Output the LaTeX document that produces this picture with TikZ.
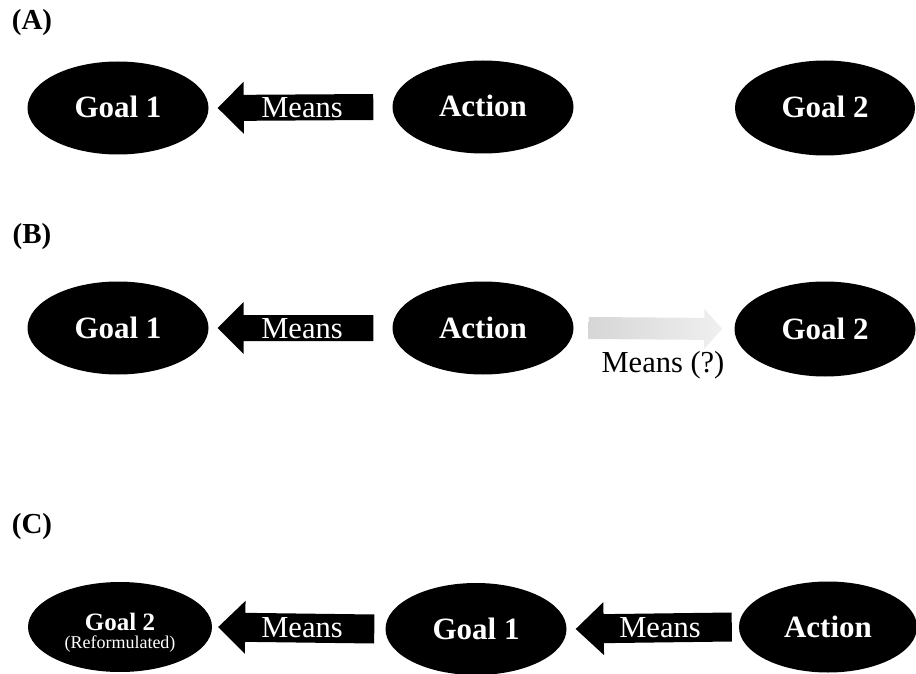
\documentclass[tikz,border=0pt]{standalone}
\usepackage{fontspec}
\setmainfont{Liberation Serif}
\usetikzlibrary{shapes.geometric,calc}

% Block arrow from a tail point to a tip point:
% #1 tail, #2 tip, #3 head length, #4 shaft half-width, #5 head half-width, #6 path options
\newcommand\blockarrow[6]{%
  \coordinate (ba-h) at ($(#2)!#3!(#1)$);
  \path[#6] ($(#1)!#4!-90:(#2)$) -- ($(ba-h)!#4!-90:(#2)$) -- ($(ba-h)!#5!-90:(#2)$)
    -- (#2) -- ($(ba-h)!#5!90:(#2)$) -- ($(ba-h)!#4!90:(#2)$) -- ($(#1)!#4!90:(#2)$) -- cycle;
}

\tikzset{
  concept/.style={ellipse, fill=black, text=white, inner sep=0pt,
    minimum width=181pt, minimum height=93pt,
    text height=20pt, text depth=0pt,
    font=\bfseries\fontsize{31}{34}\selectfont},
  panel/.style={font=\bfseries\fontsize{29}{30}\selectfont},
  meanslabel/.style={text=white, inner sep=0pt, text height=20pt, text depth=0pt,
    font=\fontsize{30.5}{32}\selectfont},
  plainlabel/.style={text=black, inner sep=0pt, font=\fontsize{30.5}{32}\selectfont},
  sublabel/.style={text=white, inner sep=0pt},
}

\begin{document}
\begin{tikzpicture}[x=1pt,y=-1pt]
  \useasboundingbox (0,0) rectangle (916,674);

  % ---- (A) ----
  \node[panel] (labA) at (32,23) {(A)};
  \node[concept] (g1A) at (118,108) {Goal 1};
  \node[concept] (actA) at (483,107) {Action};
  \node[concept, minimum width=180pt, minimum height=95pt] (g2A) at (825,108) {Goal 2};
  \coordinate (mA-tail) at ([xshift=-19pt]actA.west);
  \coordinate (mA-tip) at ([xshift=9pt]g1A.east);
  \blockarrow{mA-tail}{mA-tip}{26pt}{13pt}{26pt}{fill=black}
  \node[meanslabel] (mA) at (302,108) {Means};

  % ---- (B) ----
  \node[panel] (labB) at (32,237) {(B)};
  \node[concept] (g1B) at (118,328) {Goal 1};
  \node[concept] (actB) at (483,328) {Action};
  \node[concept, minimum width=181pt, minimum height=95pt] (g2B) at (825,329) {Goal 2};
  \coordinate (mB-tail) at ([xshift=-19pt]actB.west);
  \coordinate (mB-tip) at ([xshift=9pt]g1B.east);
  \blockarrow{mB-tail}{mB-tip}{26pt}{13pt}{26pt}{fill=black}
  \node[meanslabel] (mB) at (302,328) {Means};
  \coordinate (qB-tail) at ([xshift=15pt]actB.east);
  \coordinate (qB-tip) at ([xshift=-12pt]g2B.west);
  \blockarrow{qB-tail}{qB-tip}{18pt}{11pt}{20pt}{left color=black!16, right color=black!6}
  \node[plainlabel] (qB) at (663,365) {Means (?)};

  % ---- (C) ----
  \node[panel] (labC) at (32,527) {(C)};
  \node[concept, minimum width=184pt, minimum height=90pt] (g2C) at (120,627) {};
  \node[sublabel, font=\bfseries\fontsize{25}{26}\selectfont] (g2C-t) at ([yshift=5pt]g2C.center) {Goal 2};
  \node[sublabel, font=\fontsize{18}{19}\selectfont] (g2C-s) at ([yshift=-17pt]g2C.center) {(Reformulated)};
  \node[concept, minimum width=181pt, minimum height=92pt] (g1C) at (476,629) {Goal 1};
  \node[concept, minimum width=178pt, minimum height=91pt] (actC) at (828,627) {Action};
  \coordinate (mC1-tail) at ([xshift=-11pt]g1C.west);
  \coordinate (mC1-tip) at ([xshift=6pt]g2C.east);
  \blockarrow{mC1-tail}{mC1-tip}{27pt}{14.5pt}{26.5pt}{fill=black}
  \node[meanslabel] (mC1) at (302,627) {Means};
  \coordinate (mC2-tail) at ([xshift=-7pt]actC.west);
  \coordinate (mC2-tip) at ([xshift=9pt]g1C.east);
  \blockarrow{mC2-tail}{mC2-tip}{28pt}{14.5pt}{26.5pt}{fill=black}
  \node[meanslabel] (mC2) at (660,627) {Means};
\end{tikzpicture}
\end{document}
